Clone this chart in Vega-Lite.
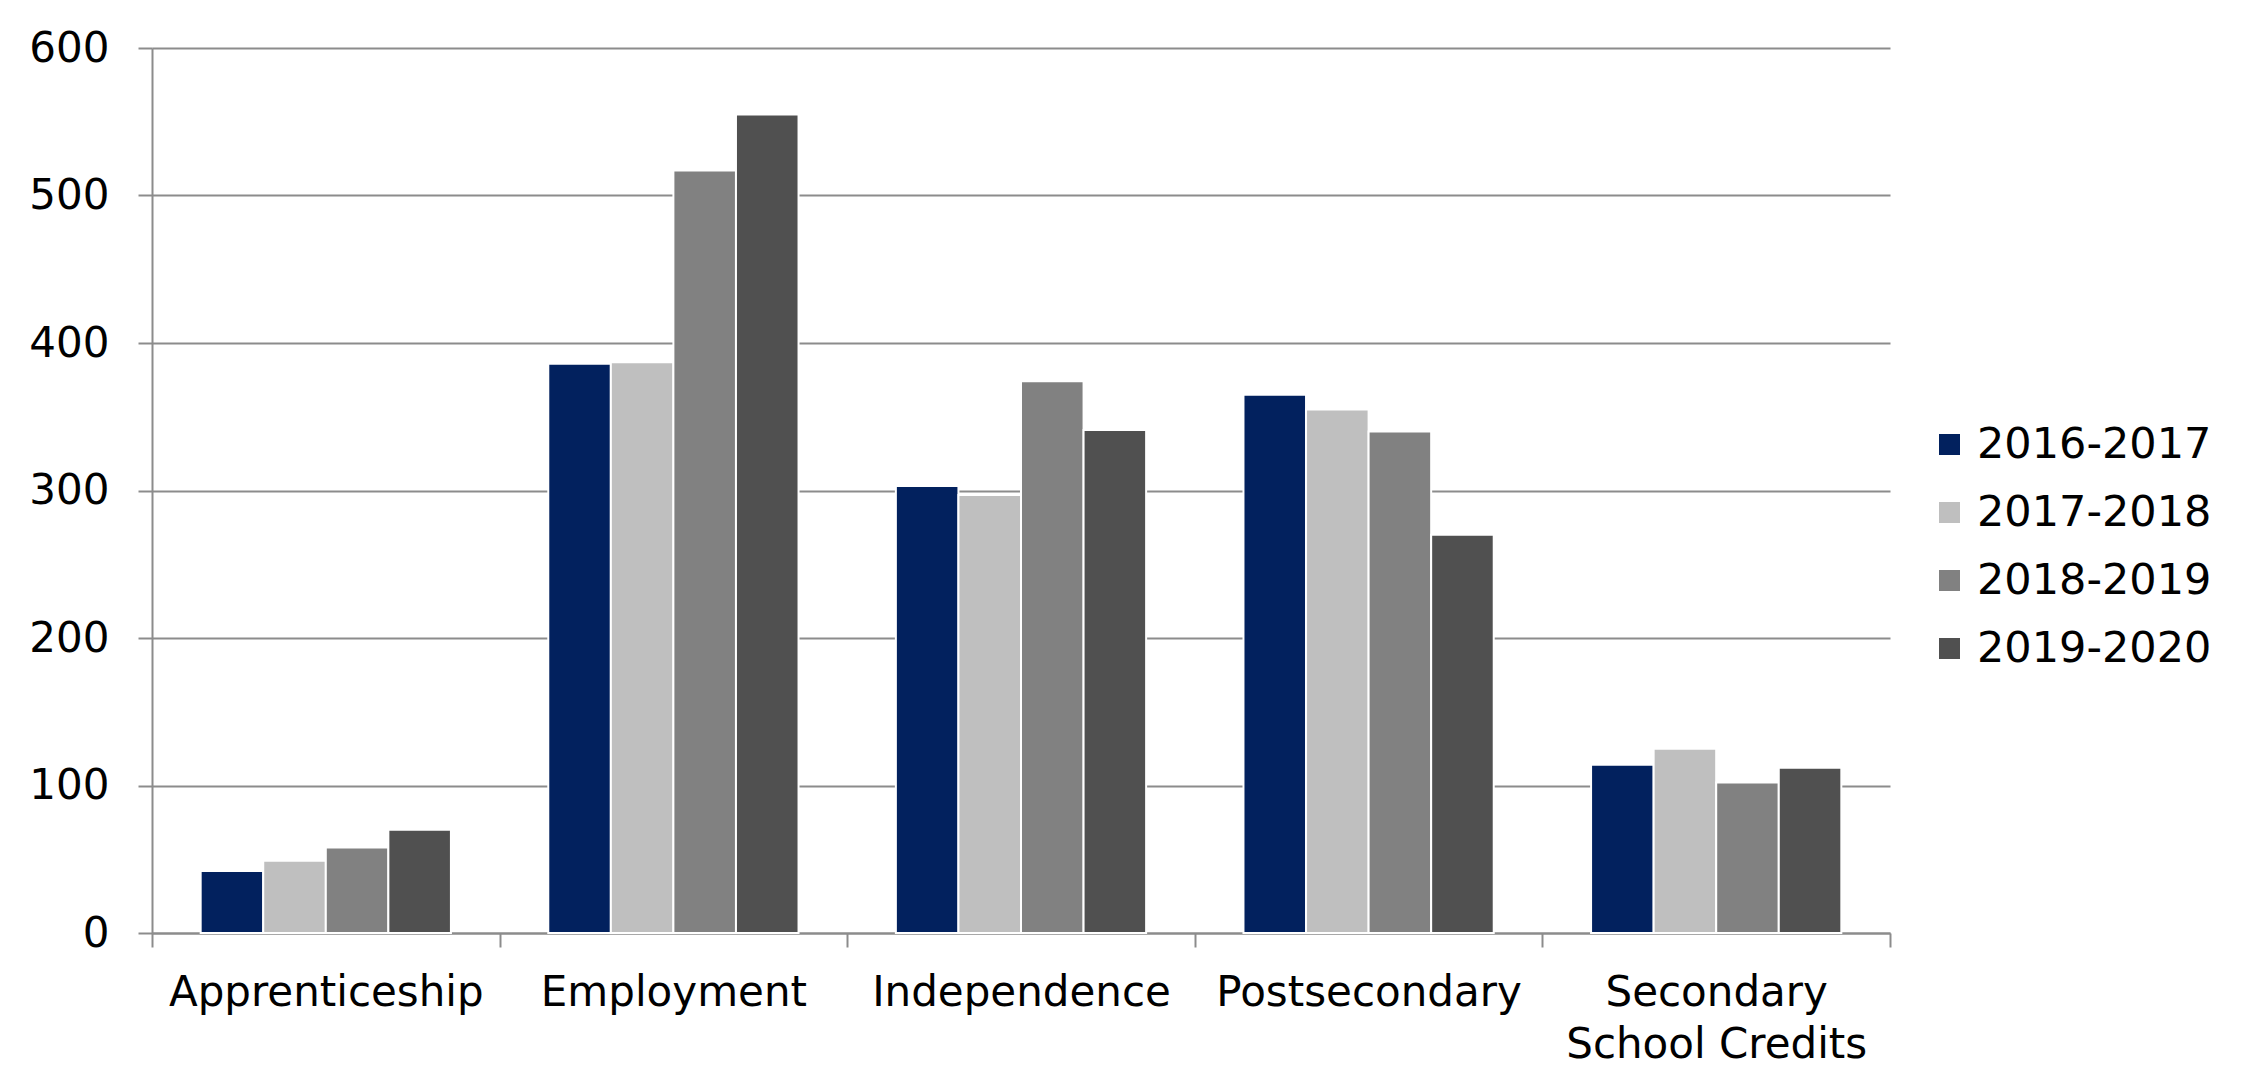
{
  "$schema": "https://vega.github.io/schema/vega-lite/v6.json",
  "width": 1738,
  "height": 885,
  "autosize": {"type": "none"},
  "padding": {"left": 152, "top": 48, "right": 354, "bottom": 144},
  "background": "white",
  "data": {
    "values": [
      {"category": "Apprenticeship", "year": "2016-2017", "value": 42},
      {"category": "Apprenticeship", "year": "2017-2018", "value": 49},
      {"category": "Apprenticeship", "year": "2018-2019", "value": 58},
      {"category": "Apprenticeship", "year": "2019-2020", "value": 70},
      {"category": "Employment", "year": "2016-2017", "value": 386},
      {"category": "Employment", "year": "2017-2018", "value": 387},
      {"category": "Employment", "year": "2018-2019", "value": 517},
      {"category": "Employment", "year": "2019-2020", "value": 555},
      {"category": "Independence", "year": "2016-2017", "value": 303},
      {"category": "Independence", "year": "2017-2018", "value": 297},
      {"category": "Independence", "year": "2018-2019", "value": 374},
      {"category": "Independence", "year": "2019-2020", "value": 341},
      {"category": "Postsecondary", "year": "2016-2017", "value": 365},
      {"category": "Postsecondary", "year": "2017-2018", "value": 355},
      {"category": "Postsecondary", "year": "2018-2019", "value": 340},
      {"category": "Postsecondary", "year": "2019-2020", "value": 270},
      {"category": "Secondary School Credits", "year": "2016-2017", "value": 114},
      {"category": "Secondary School Credits", "year": "2017-2018", "value": 125},
      {"category": "Secondary School Credits", "year": "2018-2019", "value": 102},
      {"category": "Secondary School Credits", "year": "2019-2020", "value": 112}
    ]
  },
  "mark": {"type": "bar", "stroke": "white", "strokeWidth": 2},
  "encoding": {
    "x": {
      "field": "category",
      "type": "nominal",
      "sort": null,
      "title": null,
      "scale": {"paddingInner": 0, "paddingOuter": 0},
      "axis": {
        "labelAngle": 0,
        "labelFontSize": 42,
        "labelColor": "black",
        "labelPadding": 25,
        "labelLineHeight": 52,
        "labelLimit": 600,
        "labelExpr": "datum.label == 'Secondary School Credits' ? ['Secondary', 'School Credits'] : datum.label",
        "tickBand": "extent",
        "tickSize": 14,
        "tickWidth": 2,
        "tickColor": "#8c8c8c",
        "domainColor": "#8c8c8c",
        "domainWidth": 2,
        "grid": false
      }
    },
    "xOffset": {"field": "year", "type": "nominal", "scale": {"paddingInner": 0, "paddingOuter": 0.778}},
    "y": {
      "field": "value",
      "type": "quantitative",
      "title": null,
      "scale": {"domain": [0, 600], "nice": false},
      "axis": {
        "values": [0, 100, 200, 300, 400, 500, 600],
        "labelFontSize": 42,
        "labelColor": "black",
        "labelPadding": 29,
        "tickSize": 14,
        "tickWidth": 2,
        "tickColor": "#8c8c8c",
        "domainColor": "#8c8c8c",
        "domainWidth": 2,
        "gridColor": "#8c8c8c",
        "gridWidth": 2,
        "gridOpacity": 1
      }
    },
    "color": {
      "field": "year",
      "type": "nominal",
      "title": null,
      "scale": {
        "domain": ["2016-2017", "2017-2018", "2018-2019", "2019-2020"],
        "range": ["#02215e", "#bfbfbf", "#818181", "#505050"]
      },
      "legend": {
        "orient": "none",
        "legendX": 1776,
        "legendY": 375,
        "symbolType": "square",
        "symbolSize": 441,
        "symbolStrokeWidth": 0,
        "labelFontSize": 43,
        "labelColor": "black",
        "labelOffset": 6,
        "rowPadding": 24,
        "labelLimit": 400
      }
    }
  },
  "config": {
    "font": "DejaVu Sans",
    "view": {"stroke": null}
  }
}
